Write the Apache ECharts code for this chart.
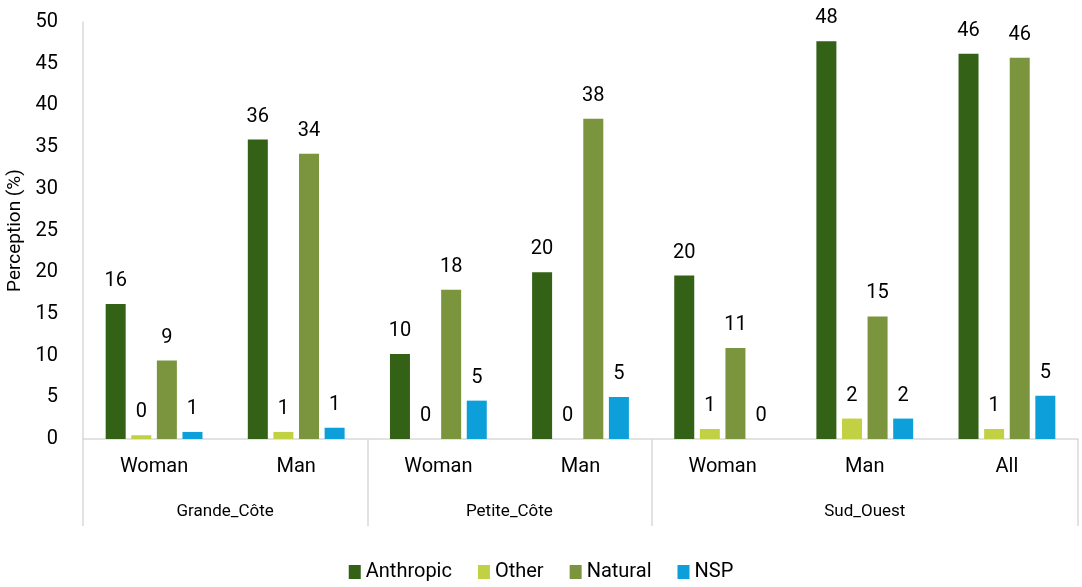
<!DOCTYPE html>
<html>
<head>
<meta charset="utf-8">
<script src="https://cdn.jsdelivr.net/npm/echarts@6/dist/echarts.min.js"></script>
<style>html,body{margin:0;padding:0;background:#fff}#c{width:1082px;height:587px}</style>
</head>
<body>
<div id="c"></div>
<script>
const categories = ['Woman','Man','Woman','Man','Woman','Man','All'];
const groupNames = ['Grande_Côte','Petite_Côte','Sud_Ouest'];
const groupSizes = [2,2,3];
const seriesNames = ['Anthropic','Other','Natural','NSP'];
const anthropic = [16.2, 35.9, 10.2, 20.0, 19.6, 47.7, 46.2];
const other     = [0.45, 0.85, 0, 0, 1.2, 2.45, 1.2];
const natural   = [9.4, 34.2, 17.9, 38.4, 10.9, 14.7, 45.7];
const nsp       = [0.85, 1.35, 4.6, 5.05, 0, 2.45, 5.2];
const yTicks = [0,5,10,15,20,25,30,35,40,45,50];
const colors = ['#336115','#c2d144','#7a953d','#0d9fd9'];

const FONT = "Roboto, 'DejaVu Sans', sans-serif";
const bounds = [0];
groupSizes.forEach(s => bounds.push(bounds[bounds.length-1] + s));
const centers = groupSizes.map((s,i) => bounds[i] + s/2);

const values = [anthropic, other, natural, nsp];
const chart = echarts.init(document.getElementById('c'));
chart.setOption({
  backgroundColor: '#fff',
  textStyle: {fontFamily: FONT},
  grid: {left: 83, right: 4, top: 22, bottom: 148, containLabel: false, outerBoundsMode: 'none'},
  legend: {
    data: seriesNames, bottom: 0, left: 'center', icon: 'rect',
    itemWidth: 12, itemHeight: 14, itemGap: 26,
    textStyle: {fontSize: 20, color: '#000', fontFamily: FONT}
  },
  xAxis: [{
    type: 'category', data: categories, position: 'bottom',
    axisLine: {show: true, lineStyle: {color: '#d9d9d9', width: 1.5}},
    axisTick: {show: false},
    axisLabel: {fontSize: 20, color: '#000', margin: 18, interval: 0}
  }, {
    type: 'value', min: 0, max: bounds[bounds.length-1], position: 'bottom',
    axisLine: {show: false},
    splitLine: {show: false},
    axisTick: {show: true, customValues: bounds, length: 87, lineStyle: {color: '#d9d9d9', width: 1.5}},
    axisLabel: {
      customValues: centers, fontSize: 17, color: '#000', margin: 64,
      formatter: v => { const i = centers.findIndex(c => Math.abs(c - v) < 1e-6); return i >= 0 ? groupNames[i] : ''; }
    }
  }],
  yAxis: {
    type: 'value', min: 0, max: 50, interval: 5,
    name: 'Perception (%)', nameLocation: 'middle', nameGap: 55,
    nameTextStyle: {fontSize: 19, color: '#000'},
    axisLine: {show: true, lineStyle: {color: '#d9d9d9', width: 1.5}},
    axisTick: {show: false},
    splitLine: {show: false},
    axisLabel: {fontSize: 20, color: '#000', margin: 25,
      formatter: v => yTicks.includes(v) ? String(v) : ''}
  },
  series: seriesNames.map((n,i) => ({
    name: n, type: 'bar', xAxisIndex: 0, data: values[i],
    barWidth: 20, barGap: '28%', barCategoryGap: '30%',
    itemStyle: {color: colors[i]},
    label: {show: true, position: 'top', distance: 13, fontSize: 20, color: '#000',
      formatter: p => String(Math.round(p.value))}
  }))
});
</script>
</body>
</html>
